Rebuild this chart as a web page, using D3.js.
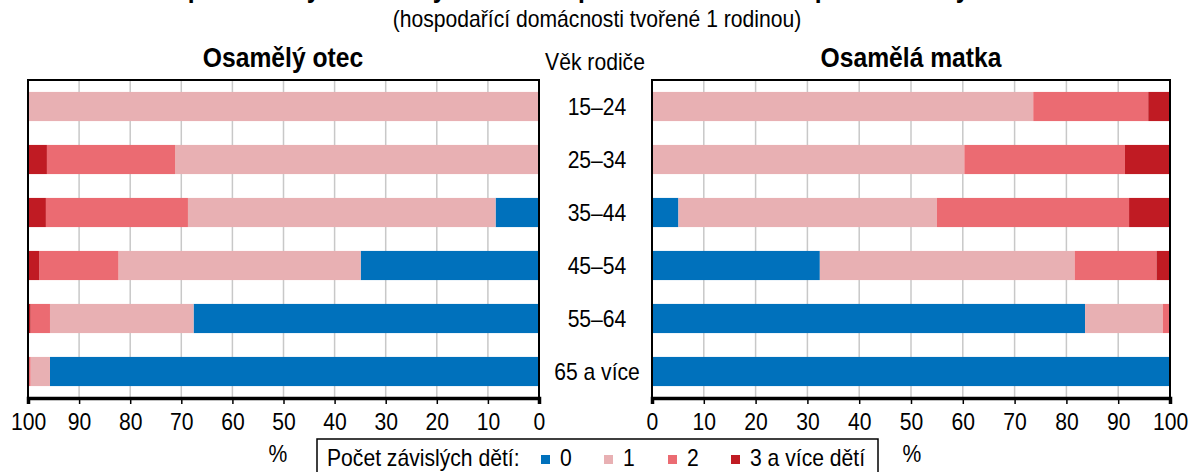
<!DOCTYPE html>
<html>
<head>
<meta charset="utf-8">
<script src="https://cdn.jsdelivr.net/npm/d3@7"></script>
<style>
  body { margin: 0; background: #fff; }
  svg { display: block; font-family: "Liberation Sans", Arial, sans-serif; }
</style>
</head>
<body>
<svg id="chart" width="1189" height="472"></svg>
<script>
// Data (in %)
const ages = ["15–24", "25–34", "35–44", "45–54", "55–64", "65 a více"];
const groups = ["0", "1", "2", "3 a více dětí"];
const ticks = [0, 10, 20, 30, 40, 50, 60, 70, 80, 90, 100];

const otec0 = [0, 0, 8.5, 34.9, 67.6, 95.7];
const otec1 = [100, 71.2, 60.2, 47.4, 28.1, 3.8];
const otec2 = [0, 25.1, 27.8, 15.5, 3.8, 0.5];
const otec3 = [0, 3.7, 3.5, 2.2, 0.5, 0];

const matka0 = [0, 0, 5.1, 32.4, 83.6, 100];
const matka1 = [73.6, 60.3, 49.9, 49.2, 15.0, 0];
const matka2 = [22.2, 31.0, 37.1, 15.8, 1.4, 0];
const matka3 = [4.2, 8.7, 7.9, 2.6, 0, 0];

const colors = ["#0071bc", "#e8b0b3", "#eb6b72", "#c01b23"];

const svg = d3.select("#chart");
const plotTop = 80, plotBottom = 398;

const y = d3.scaleBand()
    .domain(ages)
    .range([plotTop, plotBottom])
    .paddingInner(0.45)
    .paddingOuter(0.225);

function toRows(s0, s1, s2, s3) {
    return ages.map((a, i) => ({ age: a, "0": s0[i], "1": s1[i], "2": s2[i], "3 a více dětí": s3[i] }));
}

const stack = d3.stack().keys(groups);

function drawPanel(rows, x, title, titleX) {
    const g = svg.append("g");
    const [x0, x1] = d3.extent(x.range());

    // gridlines
    g.selectAll(".grid")
        .data(ticks)
        .join("line")
        .attr("x1", d => x(d)).attr("x2", d => x(d))
        .attr("y1", plotTop).attr("y2", plotBottom)
        .attr("stroke", "#c8c8c8")
        .attr("stroke-width", 1.5);

    // bars
    const series = stack(rows);
    g.selectAll(".series")
        .data(series)
        .join("g")
        .attr("fill", (d, i) => colors[i])
        .selectAll("rect")
        .data(d => d)
        .join("rect")
        .attr("x", d => Math.min(x(d[0]), x(d[1])))
        .attr("width", d => Math.abs(x(d[1]) - x(d[0])))
        .attr("y", d => y(d.data.age))
        .attr("height", y.bandwidth());

    // frame
    g.append("path")
        .attr("d", `M${x0},${plotBottom}V${plotTop}H${x1}V${plotBottom}`)
        .attr("fill", "none")
        .attr("stroke", "#000")
        .attr("stroke-width", 2);

    // bottom axis
    const axis = g.append("g")
        .attr("transform", `translate(0,${plotBottom})`)
        .call(d3.axisBottom(x).tickValues(ticks).tickSize(6).tickPadding(9));
    axis.select(".domain").attr("stroke-width", 3.5);
    axis.selectAll(".tick line").attr("stroke-width", 1.5);
    axis.selectAll(".tick text")
        .attr("class", "sq")
        .attr("font-size", 24)
        .attr("fill", "#000");

    // panel title
    svg.append("text")
        .attr("class", "sq")
        .attr("x", titleX).attr("y", 67)
        .attr("text-anchor", "middle")
        .attr("font-size", 28)
        .attr("font-weight", "bold")
        .text(title);
}

const xLeft = d3.scaleLinear().domain([0, 100]).range([539, 28]);
const xRight = d3.scaleLinear().domain([0, 100]).range([652, 1170]);

drawPanel(toRows(otec0, otec1, otec2, otec3), xLeft, "Osamělý otec", 283);
drawPanel(toRows(matka0, matka1, matka2, matka3), xRight, "Osamělá matka", 911);

// main title (mostly cut off at the top)
svg.append("text")
    .attr("class", "sq")
    .attr("x", 595).attr("y", -3)
    .attr("text-anchor", "middle")
    .attr("font-size", 28)
    .attr("font-weight", "bold")
    .text("Neúplné rodiny s osamělým rodičem podle věku rodiče a počtu závislých dětí");

// subtitle
svg.append("text")
    .attr("class", "sq")
    .attr("x", 597).attr("y", 27)
    .attr("text-anchor", "middle")
    .attr("font-size", 24)
    .text("(hospodařící domácnosti tvořené 1 rodinou)");

// age labels in the middle
svg.append("text")
    .attr("class", "sq")
    .attr("x", 595).attr("y", 70)
    .attr("text-anchor", "middle")
    .attr("font-size", 24)
    .text("Věk rodiče");

svg.selectAll(".age")
    .data(ages)
    .join("text")
    .attr("class", "sq")
    .attr("x", 597)
    .attr("y", d => y(d) + y.bandwidth() / 2 + 8)
    .attr("text-anchor", "middle")
    .attr("font-size", 24)
    .text(d => d);

// % labels
[[278, 462], [912, 462]].forEach(p => {
    svg.append("text")
        .attr("class", "sq")
        .attr("x", p[0]).attr("y", p[1])
        .attr("text-anchor", "middle")
        .attr("font-size", 24)
        .text("%");
});

// legend
const legend = svg.append("g");
legend.append("rect")
    .attr("x", 317).attr("y", 439)
    .attr("width", 561).attr("height", 60)
    .attr("fill", "#fff")
    .attr("stroke", "#000")
    .attr("stroke-width", 1.5);

legend.append("text")
    .attr("class", "sq")
    .attr("x", 327).attr("y", 466)
    .attr("font-size", 24)
    .text("Počet závislých dětí:");

const legendX = [541, 604, 668, 731];
const item = legend.selectAll(".item")
    .data(groups)
    .join("g")
    .attr("transform", (d, i) => `translate(${legendX[i]},0)`);
item.append("rect")
    .attr("x", 0).attr("y", 455)
    .attr("width", 9).attr("height", 9)
    .attr("fill", (d, i) => colors[i]);
item.append("text")
    .attr("class", "sq")
    .attr("x", 19).attr("y", 466)
    .attr("font-size", 24)
    .text(d => d);

// narrow the glyphs a bit, like the original rendering
svg.selectAll("text.sq").each(function () {
    const len = this.getComputedTextLength();
    d3.select(this)
        .attr("textLength", len * 0.88)
        .attr("lengthAdjust", "spacingAndGlyphs");
});
</script>
</body>
</html>
